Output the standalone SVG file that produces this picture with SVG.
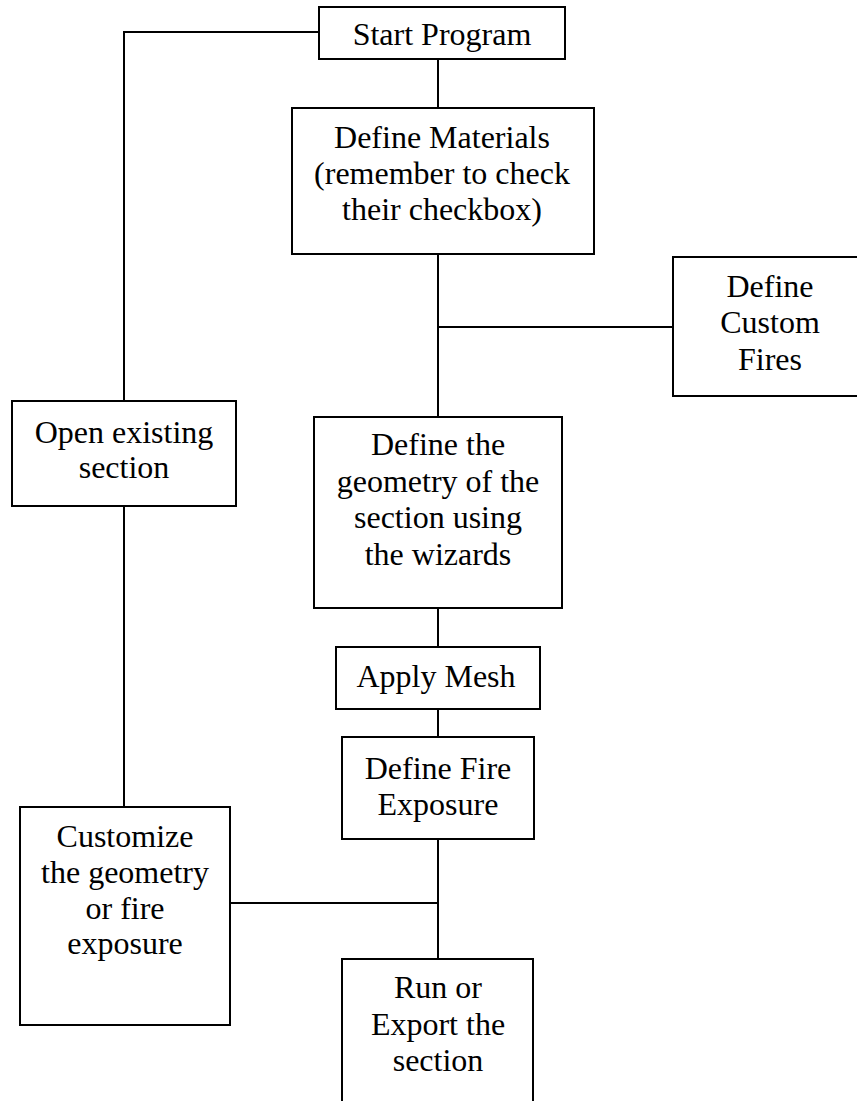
<svg xmlns="http://www.w3.org/2000/svg" width="857" height="1101" viewBox="0 0 857 1101">
<style>
.box{fill:#fff;stroke:#000;stroke-width:2}
.ln{fill:none;stroke:#000;stroke-width:2}
text{font-family:"Liberation Serif","Times New Roman",serif;font-size:32px;fill:#000;text-anchor:middle}
</style>
<rect width="857" height="1101" fill="#fff"/>
<g id="connectors">
<polyline class="ln" points="319,32 124,32 124,401"/>
<line class="ln" x1="438" y1="59" x2="438" y2="108"/>
<line class="ln" x1="438" y1="254" x2="438" y2="417"/>
<line class="ln" x1="438" y1="327" x2="673" y2="327"/>
<line class="ln" x1="124" y1="506" x2="124" y2="807"/>
<line class="ln" x1="438" y1="608" x2="438" y2="647"/>
<line class="ln" x1="438" y1="709" x2="438" y2="737"/>
<line class="ln" x1="438" y1="839" x2="438" y2="959"/>
<line class="ln" x1="230" y1="903" x2="438" y2="903"/>
</g>
<g id="start">
<rect class="box" x="319" y="7" width="246" height="52"/>
<text x="442" y="45">Start Program</text>
</g>
<g id="materials">
<rect class="box" x="292" y="108" width="302" height="146"/>
<text x="442" y="148">Define Materials</text>
<text x="442" y="184">(remember to check</text>
<text x="442" y="220">their checkbox)</text>
</g>
<g id="customfires">
<rect class="box" x="673" y="257" width="200" height="139"/>
<text x="770" y="297">Define</text>
<text x="770" y="333">Custom</text>
<text x="770" y="370">Fires</text>
</g>
<g id="openexisting">
<rect class="box" x="12" y="401" width="224" height="105"/>
<text x="124" y="443">Open existing</text>
<text x="124" y="478">section</text>
</g>
<g id="geometry">
<rect class="box" x="314" y="417" width="248" height="191"/>
<text x="438" y="455">Define the</text>
<text x="438" y="492">geometry of the</text>
<text x="438" y="528">section using</text>
<text x="438" y="565">the wizards</text>
</g>
<g id="mesh">
<rect class="box" x="336" y="647" width="204" height="62"/>
<text x="436" y="687">Apply Mesh</text>
</g>
<g id="fireexposure">
<rect class="box" x="342" y="737" width="192" height="102"/>
<text x="438" y="779">Define Fire</text>
<text x="438" y="815">Exposure</text>
</g>
<g id="customize">
<rect class="box" x="20" y="807" width="210" height="218"/>
<text x="125" y="847">Customize</text>
<text x="125" y="883">the geometry</text>
<text x="125" y="919">or fire</text>
<text x="125" y="954">exposure</text>
</g>
<g id="run">
<rect class="box" x="342" y="959" width="191" height="160"/>
<text x="438" y="998">Run or</text>
<text x="438" y="1035">Export the</text>
<text x="438" y="1071">section</text>
</g>
</svg>
